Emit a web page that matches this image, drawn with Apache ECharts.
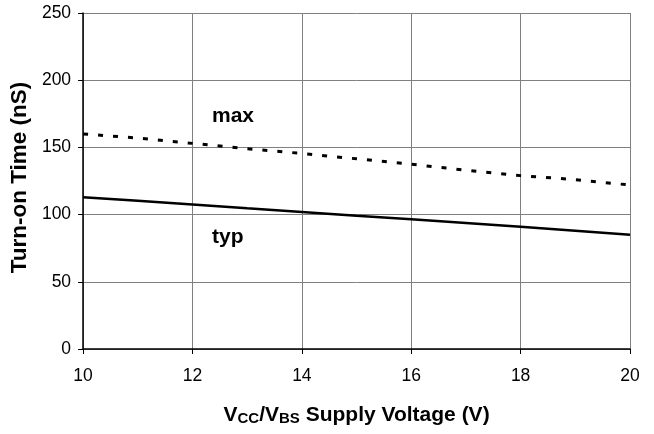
<!DOCTYPE html>
<html>
<head>
<meta charset="utf-8">
<script src="https://cdn.jsdelivr.net/npm/echarts@6/dist/echarts.min.js"></script>
<style>html,body{margin:0;padding:0;background:#fff}#c{width:654px;height:434px}</style>
</head>
<body>
<div id="c"></div>
<script>
const voltages = [10, 11, 12, 13, 14, 15, 16, 17, 18, 19, 20];
const maxValues = [160, 157, 153, 149, 145.5, 141.5, 137.5, 133, 129, 126, 122];
const typValues = [113, 110.3, 107.5, 104.7, 102, 99.2, 96.5, 93.7, 91, 88, 85];
const yTicks = [0, 50, 100, 150, 200, 250];
const xTicks = [10, 12, 14, 16, 18, 20];

const F = '"Liberation Sans", Arial, sans-serif';
const chart = echarts.init(document.getElementById('c'));
chart.setOption({
  animation: false,
  grid: { left: 82, right: 24, top: 13, bottom: 85 },
  xAxis: {
    type: 'value', min: xTicks[0], max: xTicks[xTicks.length - 1], interval: 2,
    axisLine: { lineStyle: { color: '#000', width: 1.5 } },
    axisTick: { show: true, length: 5, lineStyle: { color: '#000' } },
    axisLabel: { color: '#000', fontSize: 17.5, fontFamily: F, margin: 18 },
    splitLine: { show: true, lineStyle: { color: '#808080', width: 1 } },
    name: 'V{s|CC}/V{s|BS} Supply Voltage (V)',
    nameLocation: 'middle', nameGap: 55,
    nameTextStyle: {
      color: '#000', fontSize: 21, fontWeight: 'bold', fontFamily: F,
      rich: { s: { fontSize: 15, fontWeight: 'bold', fontFamily: F, color: '#000', verticalAlign: 'bottom', padding: [7, 0, 0, 0] } }
    }
  },
  yAxis: {
    type: 'value', min: yTicks[0], max: yTicks[yTicks.length - 1], interval: 50,
    axisLine: { show: true, lineStyle: { color: '#000', width: 1.5 } },
    axisTick: { show: true, length: 5, lineStyle: { color: '#000' } },
    axisLabel: { color: '#000', fontSize: 17.5, fontFamily: F, margin: 12 },
    splitLine: { show: true, lineStyle: { color: '#808080', width: 1 } },
    name: 'Turn-on Time (nS)',
    nameLocation: 'middle', nameGap: 46,
    nameTextStyle: { color: '#000', fontSize: 22.5, fontWeight: 'bold', fontFamily: F, padding: [0, 0, 0, 7] }
  },
  series: [
    {
      type: 'line', name: 'max', showSymbol: false, smooth: false,
      data: voltages.map((v, i) => [v, maxValues[i]]),
      lineStyle: { color: '#000', width: 3, type: [5, 10] }
    },
    {
      type: 'line', name: 'typ', showSymbol: false, smooth: false,
      data: voltages.map((v, i) => [v, typValues[i]]),
      lineStyle: { color: '#000', width: 2.5, type: 'solid' }
    }
  ],
  graphic: [
    { type: 'text', left: 212, top: 106, style: { text: 'max', fontSize: 21, fontWeight: 'bold', fontFamily: F, fill: '#000' } },
    { type: 'text', left: 212, top: 227, style: { text: 'typ', fontSize: 21, fontWeight: 'bold', fontFamily: F, fill: '#000' } }
  ]
});
</script>
</body>
</html>
